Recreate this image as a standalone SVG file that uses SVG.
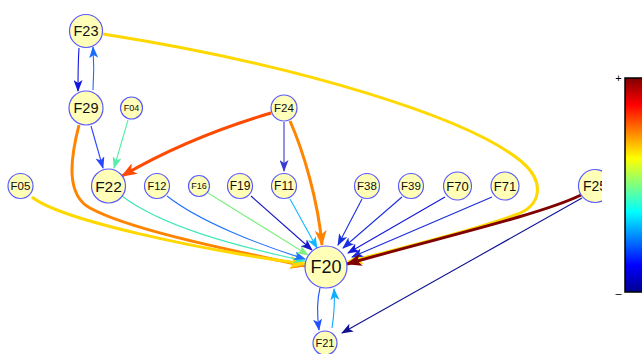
<svg xmlns="http://www.w3.org/2000/svg" width="642" height="354" viewBox="0 0 642 354">
<style>
.n circle{fill:#ffffb8;stroke:#5a5aff;stroke-width:1.2}
.n text{font-family:"Liberation Sans",Arial,sans-serif;fill:#111;text-anchor:middle;dominant-baseline:central}
.e path{fill:none}
.t{stroke-width:1.1;marker-end:url(#as)}
.k{stroke-width:3;marker-end:url(#al)}
.lbl{font-family:"Liberation Sans",Arial,sans-serif;font-size:11px;fill:#000}
</style>
<defs>
<marker id="as" viewBox="0 0 12 9" refX="11" refY="4.5" markerWidth="12" markerHeight="9" markerUnits="userSpaceOnUse" orient="auto">
<path d="M0,0 L12,4.5 L0,9 L3,4.5 z" fill="context-stroke"/>
</marker>
<marker id="al" viewBox="0 0 12 9" refX="11" refY="4.5" markerWidth="16" markerHeight="12" markerUnits="userSpaceOnUse" orient="auto">
<path d="M0,0 L12,4.5 L0,9 L3,4.5 z" fill="context-stroke"/>
</marker>
<linearGradient id="jet" x1="0" y1="1" x2="0" y2="0">
<stop offset="0" stop-color="#00008f"/>
<stop offset="0.125" stop-color="#0000ff"/>
<stop offset="0.375" stop-color="#00ffff"/>
<stop offset="0.625" stop-color="#ffff00"/>
<stop offset="0.875" stop-color="#ff0000"/>
<stop offset="1" stop-color="#800000"/>
</linearGradient>
<clipPath id="clip"><rect x="0" y="0" width="602" height="354"/></clipPath>
</defs>
<g clip-path="url(#clip)">
<g id="edges" class="e">
<path class="t" stroke="#1414e0" d="M79,48 C78,62 78,76 78,91"/>
<path class="t" stroke="#1a6cff" d="M93,90 C94,76 94,62 93,47"/>
<path class="t" stroke="#2a46ff" d="M91,126 L103,168"/>
<path class="t" stroke="#55f0a8" d="M128,120 L114,168"/>
<path class="k" stroke="#ff4a00" d="M271,113 C220,128 170,148 122,176"/>
<path class="t" stroke="#3a3ad0" stroke-width="1.5" d="M284,122 L284,171"/>
<path class="k" stroke="#ff8400" d="M290,121 C303,150 318,200 322,245"/>
<path class="k" stroke="#ffd800" stroke-width="2.5" d="M103,34 C300,65 470,118 522,162 C545,182 542,206 515,215 C470,232 400,248 348,262"/>
<path class="k" stroke="#ff8400" d="M79,125 C70,160 66,195 90,208 C130,230 230,250 305,266"/>
<path class="k" stroke="#ffd800" stroke-width="2.5" d="M32,197 C60,220 200,250 305,264"/>
<path class="t" stroke="#40e8b8" stroke-width="1.4" d="M122,196 C160,225 230,245 305,261"/>
<path class="t" stroke="#2070ff" d="M167,196 C200,222 260,245 305,259"/>
<path class="t" stroke="#80f080" stroke-width="1.4" d="M208,193 L308,255"/>
<path class="t" stroke="#1818c8" d="M251,196 L312,250"/>
<path class="t" stroke="#10b8ff" stroke-width="1.3" d="M290,199 L317,248"/>
<path class="t" stroke="#1530e0" d="M362,199 L338,245"/>
<path class="t" stroke="#1a30e0" d="M402,197 L343,248"/>
<path class="t" stroke="#1418d8" d="M445,197 L348,253"/>
<path class="t" stroke="#1a2ad8" d="M492,197 L352,257"/>
<path class="k" stroke="#800000" stroke-width="4.5" d="M581,195 C540,215 430,240 347,264"/>
<path class="t" stroke="#101090" d="M582,198 L342,333"/>
<path class="t" stroke="#2050ff" d="M320,288 C317,300 317,315 319,330"/>
<path class="t" stroke="#10aaff" stroke-width="1.4" d="M332,328 C334,315 335,302 334,289"/>
</g>
<g id="F23" class="n"><circle cx="86" cy="31" r="16.5"/><text x="86" y="31" font-size="14.5">F23</text></g>
<g id="F29" class="n"><circle cx="86" cy="108" r="17"/><text x="86" y="108" font-size="14.5">F29</text></g>
<g id="F04" class="n"><circle cx="131.5" cy="108" r="11"/><text x="131.5" y="108" font-size="9">F04</text></g>
<g id="F24" class="n"><circle cx="284" cy="108" r="13"/><text x="284" y="108" font-size="11.5">F24</text></g>
<g id="F05" class="n"><circle cx="20.5" cy="186" r="12.5"/><text x="20.5" y="186" font-size="11.5">F05</text></g>
<g id="F22" class="n"><circle cx="108.5" cy="186" r="17"/><text x="108.5" y="186" font-size="15.5">F22</text></g>
<g id="F12" class="n"><circle cx="157" cy="186" r="12.5"/><text x="157" y="186" font-size="11">F12</text></g>
<g id="F16" class="n"><circle cx="199" cy="186" r="10.5"/><text x="199" y="186" font-size="9">F16</text></g>
<g id="F19" class="n"><circle cx="240" cy="186" r="12.5"/><text x="240" y="186" font-size="12">F19</text></g>
<g id="F11" class="n"><circle cx="284" cy="186" r="12.5"/><text x="284" y="186" font-size="12">F11</text></g>
<g id="F38" class="n"><circle cx="367" cy="186" r="12.5"/><text x="367" y="186" font-size="11.5">F38</text></g>
<g id="F39" class="n"><circle cx="411" cy="186" r="12.5"/><text x="411" y="186" font-size="11.5">F39</text></g>
<g id="F70" class="n"><circle cx="457.5" cy="186" r="14"/><text x="457.5" y="186" font-size="13">F70</text></g>
<g id="F71" class="n"><circle cx="505" cy="186" r="14"/><text x="505" y="186" font-size="13">F71</text></g>
<g id="F25" class="n"><circle cx="595" cy="186" r="16.5"/><text x="595" y="186" font-size="14">F25</text></g>
<g id="F20" class="n"><circle cx="326" cy="267" r="21"/><text x="326" y="267" font-size="18">F20</text></g>
<g id="F21" class="n"><circle cx="325" cy="343" r="12"/><text x="325" y="343" font-size="11">F21</text></g>
</g>
<g id="colorbar">
<rect x="625" y="78" width="20" height="214" fill="url(#jet)" stroke="#000" stroke-width="1.5"/>
<text class="lbl" x="618.5" y="82" text-anchor="middle">+</text>
<text class="lbl" x="618.5" y="297" text-anchor="middle">–</text>
</g>
</svg>
